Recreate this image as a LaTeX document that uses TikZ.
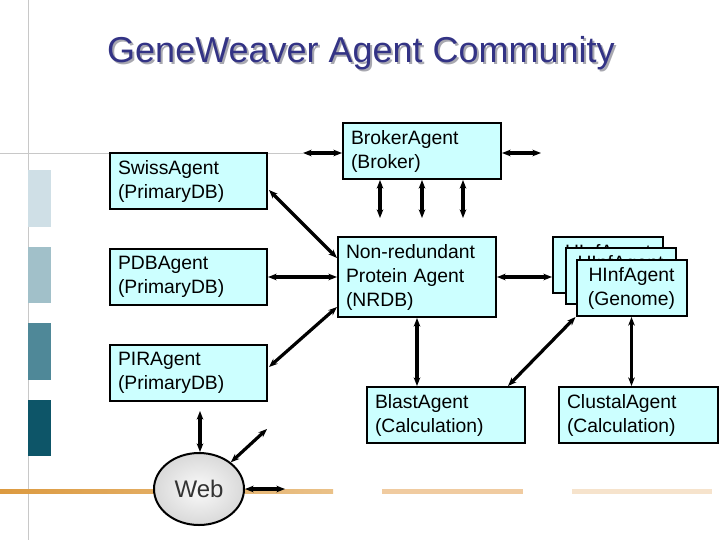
\documentclass[tikz,border=0pt]{standalone}
\usepackage{fontspec}
\setmainfont{Liberation Sans}
\usetikzlibrary{arrows.meta,calc,shapes.geometric}
\definecolor{agentfill}{HTML}{CCFFFF}
\definecolor{titleblue}{HTML}{333385}
\definecolor{titleshadow}{HTML}{A8A8B0}
\definecolor{rulegray}{HTML}{C8C8C8}
\definecolor{sqa}{HTML}{CFDFE6}
\definecolor{sqb}{HTML}{A1C0C9}
\definecolor{sqc}{HTML}{4F8898}
\definecolor{sqd}{HTML}{0D5568}
\definecolor{orA}{HTML}{DC9A40}
\definecolor{orB}{HTML}{EAC188}
\definecolor{orC}{HTML}{F0CBA0}
\definecolor{orD}{HTML}{F6E3CC}
\begin{document}
\begin{tikzpicture}[x=0.75pt,y=-0.75pt,
  agent/.style={draw=black, fill=agentfill, line width=1.5pt, inner xsep=6pt,
    inner ysep=0pt, align=left, font=\fontsize{14.5}{18}\selectfont,
    minimum height=42pt},
  stackbox/.style={agent, align=center, inner xsep=3pt, text width=76.5pt},
  link/.style={line width=2.4pt, {Stealth[length=6.5pt,width=5pt]}-{Stealth[length=6.5pt,width=5pt]}},
  thinrule/.style={draw=rulegray, line width=0.75pt}]
\useasboundingbox (0,0) rectangle (720,540);
% background decoration
\draw[thinrule] (28,0) -- (28,540);
\draw[thinrule] (0,153) -- (303,153);
\fill[sqa] (28,170) rectangle (51,227);
\fill[sqb] (28,247) rectangle (51,303);
\fill[sqc] (28,323) rectangle (51,380);
\fill[sqd] (28,400) rectangle (51,456);
\shade[left color=orA, right color=orB] (0,489) rectangle (333,493);
\fill[orC] (382,489) rectangle (523,494);
\fill[orD] (572,489) rectangle (712,494);
% title
\node[font=\fontsize{27}{32}\selectfont, text=titleshadow] at (363,55) {GeneWeaver Agent Community};
\node[font=\fontsize{27}{32}\selectfont, text=titleblue] (title) at (361,53) {GeneWeaver Agent Community};
% agents
\node[agent, text width=105.75pt] (swiss) at (188.5,181) {SwissAgent\\(PrimaryDB)};
\node[agent, text width=105.75pt] (pdb) at (188.5,277) {PDBAgent\\(PrimaryDB)};
\node[agent, text width=105.75pt] (pir) at (188.5,373) {PIRAgent\\(PrimaryDB)};
\node[agent, text width=106.5pt] (broker) at (422,151) {BrokerAgent\\(Broker)};
\node[agent, text width=106.5pt, minimum height=60pt] (nrdb) at (417,277) {Non-redundant\\Protein Agent\\(NRDB)};
\node[agent, text width=106.5pt] (blast) at (446,415) {BlastAgent\\(Calculation)};
\node[agent, text width=107.25pt] (clustal) at (638.5,415) {ClustalAgent\\(Calculation)};
\node[stackbox] (hinf1) at (608,265) {HInfAgent\\(Genome)};
\node[stackbox] (hinf2) at (620.5,276) {HInfAgent\\(Genome)};
\node[stackbox] (hinf3) at (631.5,288) {HInfAgent\\(Genome)};
\node[ellipse, draw=black, line width=1.5pt, inner color=gray!4, outer color=gray!30,
  minimum width=67.5pt, minimum height=54pt, inner sep=0pt,
  font=\fontsize{18}{20}\selectfont, text=black!80] (web) at (199,489) {Web};
% free ends
\coordinate (bl) at (303,153);
\coordinate (br) at (541,153);
\coordinate (d1) at (380,218);
\coordinate (d2) at (422,218);
\coordinate (d3) at (463,218);
\coordinate (webup) at (200,411);
\coordinate (webdiag) at (267,429);
\coordinate (webright) at (285,489);
% connectors
\draw[link] (bl) -- (bl -| broker.west);
\draw[link] (broker.east |- br) -- (br);
\draw[link] (d1 |- broker.south) -- (d1);
\draw[link] (d2 |- broker.south) -- (d2);
\draw[link] (d3 |- broker.south) -- (d3);
\draw[link] ($(swiss.east)+(1,9)$) -- ($(nrdb.west)+(0,-19)$);
\draw[link] (pdb.east) -- (nrdb.west);
\draw[link] ($(pir.east)+(1,-6)$) -- ($(nrdb.west)+(0,30)$);
\draw[link] (nrdb.east) -- (nrdb.east -| hinf1.west);
\draw[link] (nrdb.south) -- (nrdb.south |- blast.north);
\draw[link] (hinf3.south west) -- ($(blast.north east)+(-18,0)$);
\draw[link] (hinf3.south) -- (hinf3.south |- clustal.north);
\draw[link] (webup) -- (web.north -| webup);
\draw[link] (web.40) -- (webdiag);
\draw[link] (web.east) -- (webright);
\end{tikzpicture}
\end{document}
